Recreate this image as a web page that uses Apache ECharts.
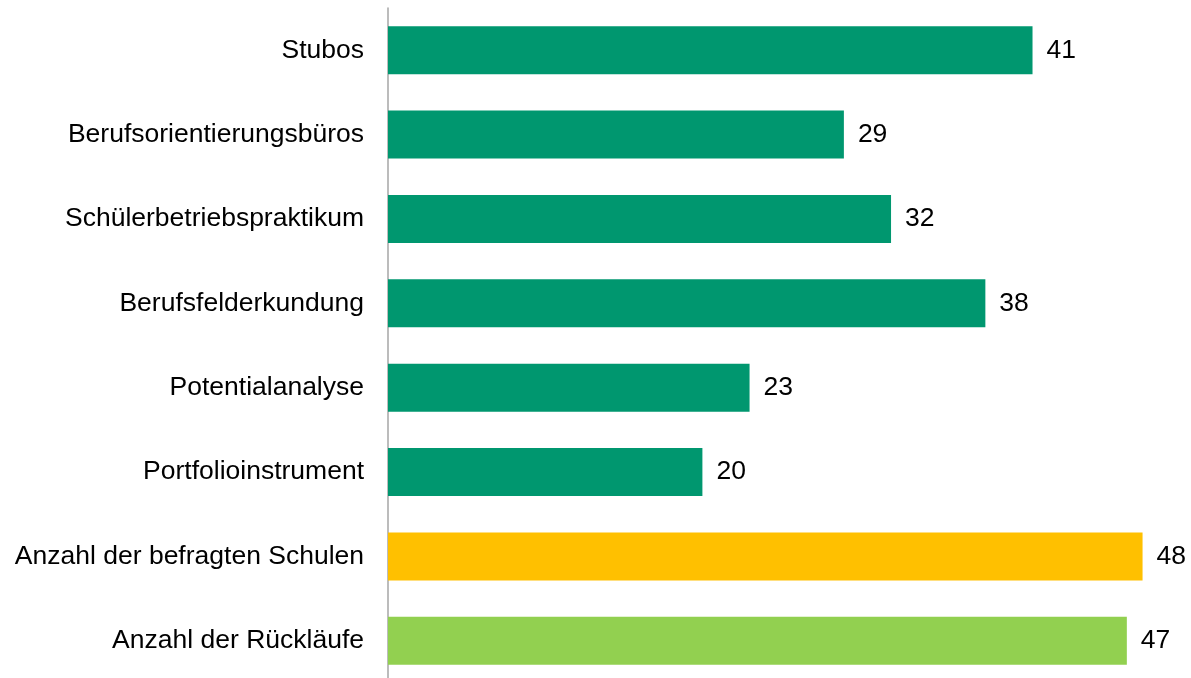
<!DOCTYPE html>
<html>
<head>
<meta charset="utf-8">
<script src="https://cdn.jsdelivr.net/npm/echarts@6/dist/echarts.min.js"></script>
<style>
  html, body { margin: 0; padding: 0; background: #fff; overflow: hidden; }
  #chart { width: 1191px; height: 684px; }
</style>
</head>
<body>
<div id="chart"></div>
<script>
// Kategorien von oben nach unten
var categories = [
    'Stubos',
    'Berufsorientierungsbüros',
    'Schülerbetriebspraktikum',
    'Berufsfelderkundung',
    'Potentialanalyse',
    'Portfolioinstrument',
    'Anzahl der befragten Schulen',
    'Anzahl der Rückläufe'
];
var values = [41, 29, 32, 38, 23, 20, 48, 47];
var barColors = ['#00976F', '#00976F', '#00976F', '#00976F', '#00976F', '#00976F', '#FFC000', '#92D050'];

var myChart = echarts.init(document.getElementById('chart'));
myChart.setOption({
    animation: false,
    grid: {
        left: 388,
        right: 17,
        top: 8,
        bottom: 1
    },
    xAxis: {
        type: 'value',
        min: 0,
        max: 50,
        show: false
    },
    yAxis: {
        type: 'category',
        inverse: true,
        data: categories,
        axisLine: { lineStyle: { color: '#A6A6A6', width: 1.5 } },
        axisTick: { show: false },
        axisLabel: {
            margin: 24,
            fontFamily: 'Liberation Sans, Arial, sans-serif',
            fontSize: 26.5,
            color: '#000'
        }
    },
    series: [{
        type: 'bar',
        barWidth: 48,
        data: values.map(function(v, i) {
            return { value: v, itemStyle: { color: barColors[i] } };
        }),
        label: {
            show: true,
            position: 'right',
            distance: 14,
            fontFamily: 'Liberation Sans, Arial, sans-serif',
            fontSize: 26.5,
            color: '#000'
        }
    }]
});
</script>
</body>
</html>
